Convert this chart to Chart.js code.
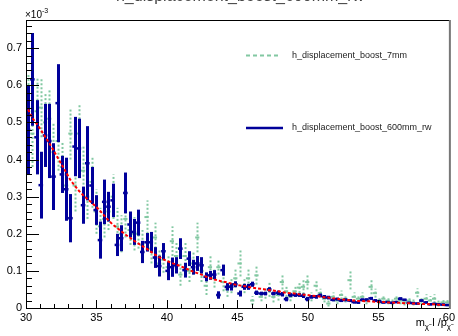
<!DOCTYPE html>
<html>
<head>
<meta charset="utf-8">
<script src="https://cdn.jsdelivr.net/npm/chart.js@4"></script>
<style>
html, body { margin: 0; padding: 0; background: #fff; }
</style>
</head>
<body>
<canvas id="histChart" width="458" height="336"></canvas>
<script>
// Histogram binning (30 -> 60, 100 bins)
const xMin = 30, xMax = 60, nBins = 100;
const xTicks = [30, 35, 40, 45, 50, 55, 60];
const yTicks = [0, 0.1, 0.2, 0.3, 0.4, 0.5, 0.6, 0.7];
const yMax = 0.776; // in units of 1e-3

const seriesNames = ['h_displacement_boost_7mm', 'h_displacement_boost_600mm_rw'];

// h_displacement_boost_7mm (green)
const greenVals = [
  0.54, 0.47, 0.53, 0.54, 0.5, 0.51, 0.42, 0.45, 0.38, 0.33,
  0.47, 0.33, 0.47, 0.37, 0.3, 0.34, 0.26, 0.22, 0.24, 0.26,
  0.3, 0.22, 0.2, 0.24, 0.21, 0.2, 0.2, 0.17, 0.245, 0.16,
  0.19, 0.12, 0.13, 0.11, 0.18, 0.14, 0.09, 0.14, 0.1, 0.12,
  0.19, 0.1, 0.06, 0.11, 0.08, 0.11, 0.07, 0.05, 0.06, 0.08,
  0.12, 0.06, 0.08, 0.02, 0.088, 0.03, 0.04, 0.05, 0.03, 0.035,
  0.07, 0.045, 0.03, 0.045, 0.055, 0.057, 0.07, 0.03, 0.06, 0.04,
  0.025, 0.012, 0.03, 0.02, 0.035, 0.025, 0.075, 0.03, 0.025, 0.03,
  0.02, 0.057, 0.04, 0.02, 0.025, 0.02, 0.015, 0.025, 0.02, 0.015,
  0.02, 0.015, 0.041, 0.02, 0.025, 0.02, 0.025, 0.012, 0.015, 0.015
];
const greenErrs = [
  0.09, 0.09, 0.09, 0.08, 0.08, 0.08, 0.08, 0.08, 0.07, 0.07,
  0.07, 0.07, 0.08, 0.07, 0.06, 0.07, 0.06, 0.05, 0.05, 0.05,
  0.06, 0.05, 0.05, 0.05, 0.04, 0.045, 0.04, 0.04, 0.045, 0.04,
  0.04, 0.035, 0.035, 0.03, 0.04, 0.035, 0.03, 0.035, 0.03, 0.03,
  0.04, 0.03, 0.025, 0.03, 0.025, 0.02, 0.025, 0.02, 0.02, 0.025,
  0.035, 0.02, 0.025, 0.012, 0.025, 0.012, 0.015, 0.02, 0.015, 0.015,
  0.02, 0.015, 0.012, 0.015, 0.015, 0.02, 0.02, 0.012, 0.015, 0.012,
  0.01, 0.008, 0.012, 0.01, 0.012, 0.01, 0.025, 0.012, 0.01, 0.012,
  0.01, 0.02, 0.012, 0.01, 0.01, 0.01, 0.008, 0.01, 0.01, 0.008,
  0.01, 0.008, 0.012, 0.01, 0.012, 0.012, 0.012, 0.008, 0.01, 0.01
];

// h_displacement_boost_600mm_rw (blue)
const blueVals = [
  0.48, 0.616, 0.46, 0.331, 0.465, 0.45, 0.354, 0.552, 0.36, 0.32,
  0.242, 0.435, 0.43, 0.277, 0.39, 0.33, 0.264, 0.183, 0.286, 0.273,
  0.29, 0.17, 0.188, 0.31, 0.225, 0.205, 0.23, 0.151, 0.177, 0.177,
  0.136, 0.113, 0.153, 0.1, 0.11, 0.115, 0.16, 0.102, 0.133, 0.11,
  0.12, 0.115, 0.084, 0.088, 0.09, 0.035, 0.102, 0.057, 0.057, 0.064,
  0.039, 0.057, 0.057, 0.064, 0.041, 0.039, 0.039, 0.05, 0.039, 0.041,
  0.037, 0.024, 0.035, 0.035, 0.035, 0.033, 0.024, 0.03, 0.03, 0.034,
  0.03, 0.028, 0.022, 0.024, 0.02, 0.022, 0.02, 0.016, 0.015, 0.022,
  0.022, 0.026, 0.02, 0.018, 0.015, 0.016, 0.014, 0.016, 0.025, 0.022,
  0.014, 0.013, 0.012, 0.02, 0.015, 0.01, 0.011, 0.01, 0.009, 0.008
];
const blueErrs = [
  0.12, 0.125, 0.1, 0.09, 0.085, 0.1, 0.09, 0.105, 0.05, 0.085,
  0.065, 0.08, 0.08, 0.05, 0.1, 0.05, 0.04, 0.05, 0.06, 0.04,
  0.045, 0.03, 0.035, 0.055, 0.035, 0.035, 0.035, 0.03, 0.025, 0.028,
  0.028, 0.028, 0.022, 0.025, 0.026, 0.022, 0.028, 0.02, 0.02, 0.02,
  0.02, 0.022, 0.012, 0.012, 0.012, 0.01, 0.015, 0.01, 0.01, 0.008,
  0.008, 0.008, 0.008, 0.007, 0.006, 0.005, 0.005, 0.006, 0.005, 0.006,
  0.006, 0.006, 0.005, 0.005, 0.005, 0.006, 0.006, 0.005, 0.005, 0.005,
  0.005, 0.005, 0.004, 0.004, 0.004, 0.004, 0.004, 0.004, 0.004, 0.004,
  0.004, 0.004, 0.004, 0.004, 0.003, 0.003, 0.003, 0.003, 0.004, 0.003,
  0.003, 0.003, 0.003, 0.003, 0.003, 0.003, 0.003, 0.003, 0.003, 0.003
];

// smooth red dashed curve
const redVals = [
  0.535, 0.512, 0.497, 0.48, 0.462, 0.444, 0.425, 0.405, 0.385, 0.365,
  0.345, 0.33, 0.316, 0.304, 0.294, 0.284, 0.274, 0.262, 0.249, 0.236,
  0.225, 0.216, 0.207, 0.198, 0.19, 0.182, 0.174, 0.167, 0.16, 0.152,
  0.144, 0.137, 0.131, 0.126, 0.121, 0.117, 0.113, 0.108, 0.103, 0.098,
  0.094, 0.09, 0.085, 0.081, 0.077, 0.074, 0.071, 0.069, 0.066, 0.063,
  0.061, 0.059, 0.057, 0.055, 0.053, 0.052, 0.05, 0.048, 0.047, 0.045,
  0.043, 0.041, 0.04, 0.039, 0.037, 0.036, 0.035, 0.033, 0.032, 0.031,
  0.029, 0.028, 0.026, 0.025, 0.023, 0.022, 0.021, 0.02, 0.019, 0.019,
  0.018, 0.018, 0.017, 0.016, 0.016, 0.015, 0.015, 0.014, 0.014, 0.013,
  0.013, 0.012, 0.012, 0.011, 0.011, 0.01, 0.01, 0.009, 0.009, 0.008
];

const GREEN = '#82c8a2';
const BLUE = '#00009a';
const RED = '#ff0000';
const FONT = 'Liberation Sans';

const binW = (xMax - xMin) / nBins;
const centers = greenVals.map((_, i) => xMin + binW * (i + 0.5));
const toPts = vals => vals.map((v, i) => ({ x: centers[i], y: v }));

// vertical error bars through the chart scales
const errorBars = {
  id: 'errorBars',
  afterDatasetDraw(chart, args) {
    const ds = chart.data.datasets[args.index];
    if (!ds.errs) return;
    const { ctx, chartArea, scales } = chart;
    ctx.save();
    ctx.beginPath();
    ctx.rect(chartArea.left, chartArea.top, chartArea.right - chartArea.left, chartArea.bottom - chartArea.top);
    ctx.clip();
    ctx.strokeStyle = ds.borderColor;
    ctx.lineWidth = ds.errWidth;
    ctx.setLineDash(ds.errDash || []);
    ds.data.forEach((p, i) => {
      const px = Math.round(scales.x.getPixelForValue(p.x)) + 0.5;
      ctx.beginPath();
      ctx.moveTo(px, scales.y.getPixelForValue(p.y - ds.errs[i]));
      ctx.lineTo(px, scales.y.getPixelForValue(p.y + ds.errs[i]));
      ctx.stroke();
    });
    ctx.restore();
  }
};

// ROOT-like frame, inner ticks, legend and texts
const decorations = {
  id: 'decorations',
  afterDraw(chart) {
    const { ctx, chartArea: a, scales } = chart;
    const x = scales.x, y = scales.y;
    ctx.save();
    // ticks
    ctx.strokeStyle = '#000';
    ctx.lineWidth = 1;
    for (let v = 0; v <= yMax + 1e-9; v += 0.02) {
      const py = Math.round(y.getPixelForValue(v)) + 0.5;
      const major = Math.abs(v * 10 - Math.round(v * 10)) < 1e-6;
      ctx.beginPath();
      ctx.moveTo(a.left, py);
      ctx.lineTo(a.left + (major ? 13 : 6), py);
      ctx.stroke();
    }
    for (let v = xMin; v <= xMax; v += 1) {
      const px = Math.round(x.getPixelForValue(v)) + 0.5;
      ctx.beginPath();
      ctx.moveTo(px, a.bottom);
      ctx.lineTo(px, a.bottom - (v % 5 === 0 ? 8 : 4));
      ctx.stroke();
    }
    // frame
    ctx.strokeStyle = '#000';
    ctx.strokeRect(Math.round(a.left) + 0.5, Math.round(a.top) + 0.5,
      Math.round(a.right - a.left), Math.round(a.bottom - a.top));
    ctx.strokeStyle = '#777';
    ctx.lineWidth = 2;
    ctx.beginPath();
    ctx.moveTo(a.right + 1, a.top);
    ctx.lineTo(a.right + 1, a.bottom + 1);
    ctx.stroke();

    // exponent label
    ctx.fillStyle = '#000';
    ctx.textBaseline = 'alphabetic';
    ctx.textAlign = 'left';
    ctx.font = '10px ' + FONT;
    ctx.fillText('\u00d710', 25, 18);
    const w10 = ctx.measureText('\u00d710').width;
    ctx.font = '7px ' + FONT;
    ctx.fillText('-3', 25 + w10, 13);

    // title (clipped at top of canvas)
    ctx.fillStyle = '#444';
    ctx.font = '16px ' + FONT;
    ctx.textAlign = 'center';
    ctx.fillText(seriesNames[1], 240, 1);

    // x axis title
    ctx.fillStyle = '#000';
    ctx.textAlign = 'left';
    const parts = [
      { t: 'm', s: 11, dy: 0 }, { t: 'χ̃', s: 8, dy: 3 },
      { t: ' l /p', s: 11, dy: 0 }, { t: 'χ̃', s: 8, dy: 3 }
    ];
    let tw = 0;
    parts.forEach(p => { ctx.font = p.s + 'px ' + FONT; p.w = ctx.measureText(p.t).width; tw += p.w; });
    let tx = 451 - tw;
    parts.forEach(p => { ctx.font = p.s + 'px ' + FONT; ctx.fillText(p.t, tx, 326 + p.dy); tx += p.w; });

    // legend
    ctx.font = '9px ' + FONT;
    ctx.fillStyle = '#222';
    ctx.textBaseline = 'middle';
    ctx.lineWidth = 2;
    ctx.strokeStyle = GREEN;
    ctx.setLineDash([4, 3]);
    ctx.beginPath(); ctx.moveTo(246, 55.5); ctx.lineTo(281, 55.5); ctx.stroke();
    ctx.fillText(seriesNames[0], 292, 55.5);
    ctx.setLineDash([]);
    ctx.lineWidth = 2.5;
    ctx.strokeStyle = BLUE;
    ctx.beginPath(); ctx.moveTo(246, 128); ctx.lineTo(283, 128); ctx.stroke();
    ctx.fillText(seriesNames[1], 292, 128);
    ctx.restore();
  }
};

new Chart(document.getElementById('histChart'), {
  type: 'scatter',
  data: {
    datasets: [
      {
        label: seriesNames[0],
        data: toPts(greenVals),
        errs: greenErrs,
        errWidth: 2,
        errDash: [2, 2],
        borderColor: GREEN,
        pointStyle: 'line',
        pointRadius: 2.1,
        pointBorderWidth: 2,
        pointBorderColor: GREEN,
        order: 3
      },
      {
        label: seriesNames[1],
        data: toPts(blueVals),
        errs: blueErrs,
        errWidth: 3,
        borderColor: BLUE,
        pointStyle: 'line',
        pointRadius: 2.3,
        pointBorderWidth: 2.5,
        pointBorderColor: BLUE,
        order: 2
      },
      {
        type: 'line',
        label: 'fit',
        data: toPts(redVals),
        borderColor: RED,
        borderWidth: 2,
        borderDash: [3, 2],
        pointRadius: 0,
        fill: false,
        tension: 0,
        order: 1
      }
    ]
  },
  options: {
    responsive: false,
    devicePixelRatio: 1,
    animation: false,
    events: [],
    layout: { padding: { top: 20, right: 7, left: 0, bottom: 0 } },
    plugins: { legend: { display: false }, tooltip: { enabled: false } },
    scales: {
      x: {
        type: 'linear',
        min: xMin,
        max: xMax,
        grid: { display: false, drawTicks: false },
        border: { display: false },
        afterBuildTicks: s => { s.ticks = xTicks.map(v => ({ value: v })); },
        afterFit: s => { s.height = 28; },
        ticks: {
          padding: 3,
          autoSkip: false,
          maxRotation: 0,
          color: '#000',
          font: { family: FONT, size: 11 },
          callback: v => String(v)
        }
      },
      y: {
        type: 'linear',
        min: 0,
        max: yMax,
        grid: { display: false, drawTicks: false },
        border: { display: false },
        afterBuildTicks: s => { s.ticks = yTicks.map(v => ({ value: v })); },
        afterFit: s => { s.width = 26; },
        ticks: {
          padding: 4,
          color: '#000',
          font: { family: FONT, size: 11 },
          callback: v => (v === 0 ? '0' : v.toFixed(1))
        }
      }
    }
  },
  plugins: [errorBars, decorations]
});
</script>
</body>
</html>
